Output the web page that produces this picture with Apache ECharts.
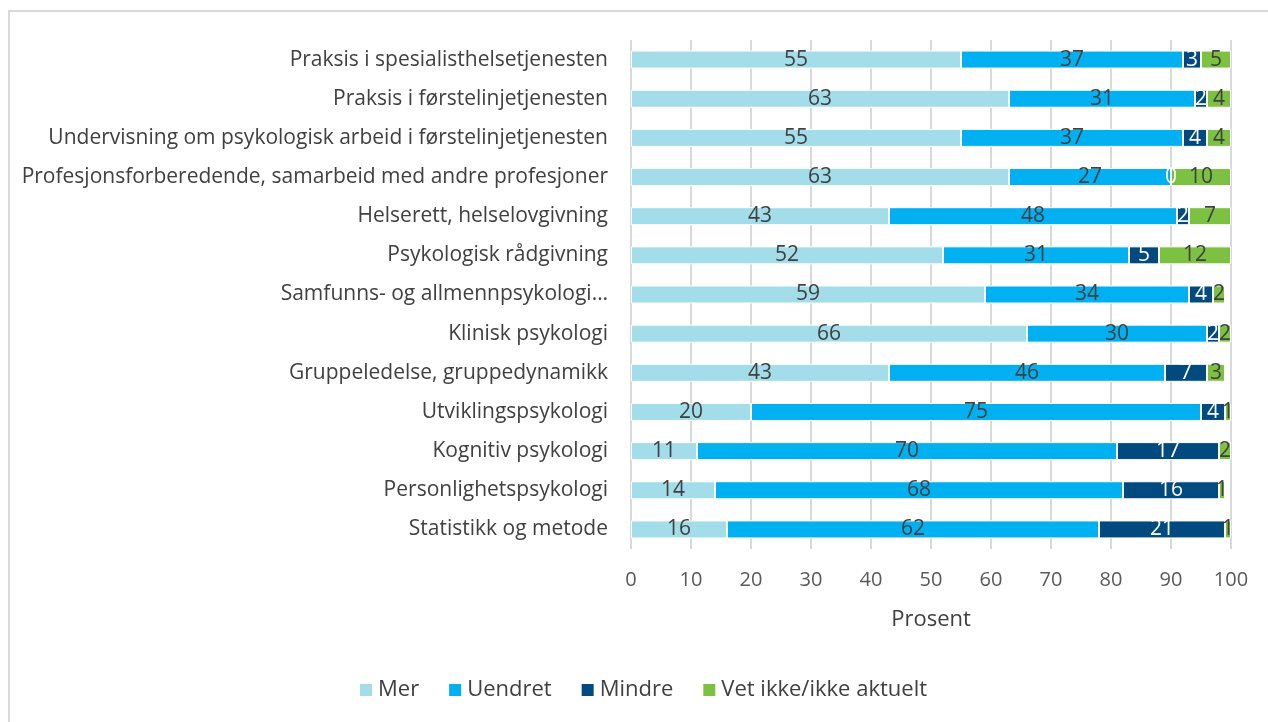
<!DOCTYPE html>
<html>
<head>
<meta charset="utf-8">
<script src="https://cdn.jsdelivr.net/npm/echarts@6/dist/echarts.min.js"></script>
<style>
  html, body { margin: 0; padding: 0; background: #fff; }
  #frame { position: absolute; left: 8px; top: 10px; width: 1260px; height: 712px;
           border-left: 2px solid #d9d9d9; border-top: 2px solid #d9d9d9; box-sizing: border-box; }
  #chart { position: absolute; left: 0; top: 0; width: 1268px; height: 722px; }
</style>
</head>
<body>
<div id="frame"></div>
<div id="chart"></div>
<script>
// Subjects, top to bottom
const categories = [
  'Praksis i spesialisthelsetjenesten',
  'Praksis i førstelinjetjenesten',
  'Undervisning om psykologisk arbeid i førstelinjetjenesten',
  'Profesjonsforberedende, samarbeid med andre profesjoner',
  'Helserett, helselovgivning',
  'Psykologisk rådgivning',
  'Samfunns- og allmennpsykologi…',
  'Klinisk psykologi',
  'Gruppeledelse, gruppedynamikk',
  'Utviklingspsykologi',
  'Kognitiv psykologi',
  'Personlighetspsykologi',
  'Statistikk og metode'
];

// Share of respondents (percent) per answer
const mer     = [55, 63, 55, 63, 43, 52, 59, 66, 43, 20, 11, 14, 16];
const uendret = [37, 31, 37, 27, 48, 31, 34, 30, 46, 75, 70, 68, 62];
const mindre  = [3, 2, 4, 0, 2, 5, 4, 2, 7, 4, 17, 16, 21];
const vetIkke = [5, 4, 4, 10, 7, 12, 2, 2, 3, 1, 2, 1, 1];

const xTicks = [0, 10, 20, 30, 40, 50, 60, 70, 80, 90, 100];

const FONT = '"Open Sans", "Liberation Sans", sans-serif';
const TEXT = '#404040';

function bar(name, data, color, labelColor) {
  return {
    name: name,
    type: 'bar',
    stack: 'total',
    data: data,
    barWidth: 18,
    itemStyle: { color: color, borderColor: '#ffffff', borderWidth: 1 },
    label: {
      show: true,
      position: 'inside',
      color: labelColor,
      fontFamily: FONT,
      fontSize: 21
    },
    emphasis: { disabled: true }
  };
}

const chart = echarts.init(document.getElementById('chart'), null, { renderer: 'canvas' });
chart.setOption({
  animation: false,
  backgroundColor: 'transparent',
  textStyle: { fontFamily: FONT },
  grid: { left: 631, right: 37, top: 40, bottom: 173, containLabel: false },
  legend: {
    bottom: 16,
    left: 353,
    itemWidth: 14,
    itemHeight: 14,
    itemGap: 28,
    icon: 'rect',
    textStyle: { color: TEXT, fontFamily: FONT, fontSize: 22 },
    data: ['Mer', 'Uendret', 'Mindre', 'Vet ikke/ikke aktuelt']
  },
  xAxis: {
    type: 'value',
    min: xTicks[0],
    max: xTicks[xTicks.length - 1],
    interval: 10,
    name: 'Prosent',
    nameLocation: 'middle',
    nameGap: 60,
    nameTextStyle: { color: TEXT, fontFamily: FONT, fontSize: 22 },
    axisLine: { show: false },
    axisTick: { show: false },
    axisLabel: { color: '#595959', fontFamily: FONT, fontSize: 20, margin: 21 },
    splitLine: { show: true, lineStyle: { color: '#d9d9d9', width: 2 } }
  },
  yAxis: {
    type: 'category',
    inverse: true,
    data: categories,
    axisLine: { show: false },
    axisTick: { show: false },
    axisLabel: { color: TEXT, fontFamily: FONT, fontSize: 21, margin: 23 }
  },
  series: [
    bar('Mer', mer, '#a2dde9', TEXT),
    bar('Uendret', uendret, '#00b0f0', TEXT),
    bar('Mindre', mindre, '#004a80', '#ffffff'),
    bar('Vet ikke/ikke aktuelt', vetIkke, '#7cc142', TEXT)
  ]
});
</script>
</body>
</html>
